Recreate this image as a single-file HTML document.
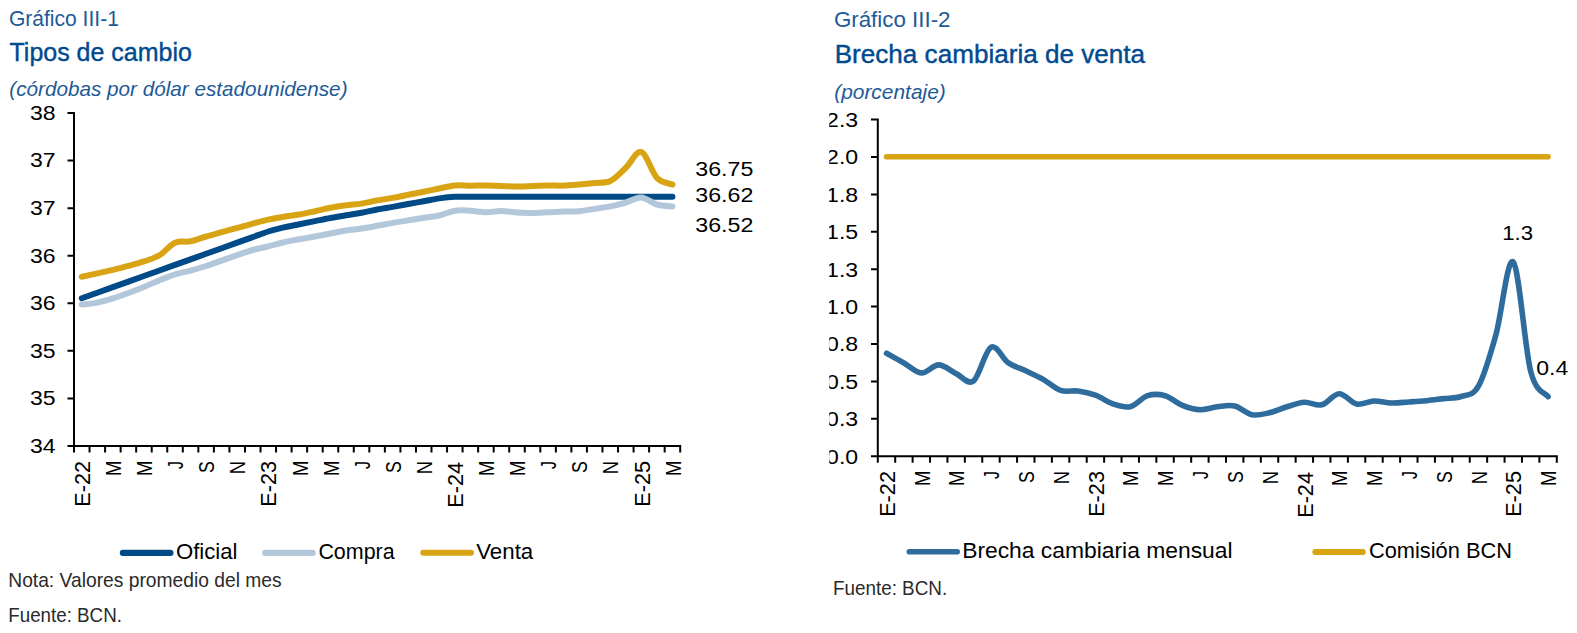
<!DOCTYPE html>
<html><head><meta charset="utf-8"><title>Tipos de cambio y brecha cambiaria</title>
<style>html,body{margin:0;padding:0;background:#fff;overflow:hidden;}svg{display:block;}</style></head>
<body><svg width="1577" height="633" viewBox="0 0 1577 633">
<rect width="1577" height="633" fill="#fff"/>
<text transform="translate(8.94 26.0) scale(0.9575 1)" font-family="'Liberation Sans', sans-serif" font-size="22" fill="#1d5a98">Gráfico III-1</text>
<text transform="translate(9.50 61.0) scale(0.9801 1)" font-family="'Liberation Sans', sans-serif" font-size="25.5" fill="#004a8f" stroke="#004a8f" stroke-width="0.4">Tipos de cambio</text>
<text transform="translate(9.29 95.9) scale(1.0099 1)" font-family="'Liberation Sans', sans-serif" font-size="20.5" fill="#1d5a98" font-style="italic">(córdobas por dólar estadounidense)</text>
<text transform="translate(833.88 26.8) scale(1.0159 1)" font-family="'Liberation Sans', sans-serif" font-size="22" fill="#1d5a98">Gráfico III-2</text>
<text transform="translate(834.65 62.6) scale(1.0235 1)" font-family="'Liberation Sans', sans-serif" font-size="25.5" fill="#004a8f" stroke="#004a8f" stroke-width="0.4">Brecha cambiaria de venta</text>
<text transform="translate(834.18 98.7) scale(1.0206 1)" font-family="'Liberation Sans', sans-serif" font-size="20.5" fill="#1d5a98" font-style="italic">(porcentaje)</text>
<text transform="translate(175.96 559.0) scale(1.0404 1)" font-family="'Liberation Sans', sans-serif" font-size="21.3" fill="#000">Oficial</text>
<text transform="translate(318.39 558.8) scale(1.0067 1)" font-family="'Liberation Sans', sans-serif" font-size="21.3" fill="#000">Compra</text>
<text transform="translate(476.20 558.8) scale(1.0473 1)" font-family="'Liberation Sans', sans-serif" font-size="21.3" fill="#000">Venta</text>
<text transform="translate(962.15 558.3) scale(1.0727 1)" font-family="'Liberation Sans', sans-serif" font-size="21.3" fill="#000">Brecha cambiaria mensual</text>
<text transform="translate(1368.98 558.4) scale(1.0248 1)" font-family="'Liberation Sans', sans-serif" font-size="21.3" fill="#000">Comisión BCN</text>
<text transform="translate(8.23 586.6) scale(0.9725 1)" font-family="'Liberation Sans', sans-serif" font-size="19.8" fill="#2a2a2a">Nota: Valores promedio del mes</text>
<text transform="translate(8.25 621.7) scale(0.9479 1)" font-family="'Liberation Sans', sans-serif" font-size="19.8" fill="#2a2a2a">Fuente: BCN.</text>
<text transform="translate(832.95 594.9) scale(0.9521 1)" font-family="'Liberation Sans', sans-serif" font-size="19.8" fill="#2a2a2a">Fuente: BCN.</text>
<text transform="translate(695.29 176.2) scale(1.1059 1)" font-family="'Liberation Sans', sans-serif" font-size="21" fill="#000">36.75</text>
<text transform="translate(695.29 202.0) scale(1.1059 1)" font-family="'Liberation Sans', sans-serif" font-size="21" fill="#000">36.62</text>
<text transform="translate(695.29 232.2) scale(1.1059 1)" font-family="'Liberation Sans', sans-serif" font-size="21" fill="#000">36.52</text>
<text transform="translate(1502.24 239.9) scale(1.0571 1)" font-family="'Liberation Sans', sans-serif" font-size="21" fill="#000">1.3</text>
<text transform="translate(1536.30 374.9) scale(1.0964 1)" font-family="'Liberation Sans', sans-serif" font-size="21" fill="#000">0.4</text>
<text transform="translate(30.00 452.90) scale(1.0955 1)" font-family="'Liberation Sans', sans-serif" font-size="21" fill="#000">34</text>
<text transform="translate(30.00 405.33) scale(1.0955 1)" font-family="'Liberation Sans', sans-serif" font-size="21" fill="#000">35</text>
<text transform="translate(30.00 357.76) scale(1.0955 1)" font-family="'Liberation Sans', sans-serif" font-size="21" fill="#000">35</text>
<text transform="translate(30.00 310.19) scale(1.0955 1)" font-family="'Liberation Sans', sans-serif" font-size="21" fill="#000">36</text>
<text transform="translate(30.00 262.61) scale(1.0955 1)" font-family="'Liberation Sans', sans-serif" font-size="21" fill="#000">36</text>
<text transform="translate(30.00 215.04) scale(1.0955 1)" font-family="'Liberation Sans', sans-serif" font-size="21" fill="#000">37</text>
<text transform="translate(30.00 167.47) scale(1.0955 1)" font-family="'Liberation Sans', sans-serif" font-size="21" fill="#000">37</text>
<text transform="translate(30.00 119.90) scale(1.0955 1)" font-family="'Liberation Sans', sans-serif" font-size="21" fill="#000">38</text>
<path d="M74.0 112.0V446.0 M67.5 446.0H681.2 M67.5 446.00H74.0 M67.5 398.43H74.0 M67.5 350.86H74.0 M67.5 303.29H74.0 M67.5 255.71H74.0 M67.5 208.14H74.0 M67.5 160.57H74.0 M67.5 113.00H74.0 M74.00 446.0V452.6 M89.54 446.0V452.6 M105.09 446.0V452.6 M120.63 446.0V452.6 M136.17 446.0V452.6 M151.72 446.0V452.6 M167.26 446.0V452.6 M182.81 446.0V452.6 M198.35 446.0V452.6 M213.89 446.0V452.6 M229.44 446.0V452.6 M244.98 446.0V452.6 M260.52 446.0V452.6 M276.07 446.0V452.6 M291.61 446.0V452.6 M307.15 446.0V452.6 M322.70 446.0V452.6 M338.24 446.0V452.6 M353.78 446.0V452.6 M369.33 446.0V452.6 M384.87 446.0V452.6 M400.42 446.0V452.6 M415.96 446.0V452.6 M431.50 446.0V452.6 M447.05 446.0V452.6 M462.59 446.0V452.6 M478.13 446.0V452.6 M493.68 446.0V452.6 M509.22 446.0V452.6 M524.76 446.0V452.6 M540.31 446.0V452.6 M555.85 446.0V452.6 M571.39 446.0V452.6 M586.94 446.0V452.6 M602.48 446.0V452.6 M618.03 446.0V452.6 M633.57 446.0V452.6 M649.11 446.0V452.6 M664.66 446.0V452.6 M680.20 446.0V452.6" stroke="#000" stroke-width="2.0" fill="none"/>
<text transform="translate(89.97 506.75) rotate(-90) scale(0.9773 1)" font-family="'Liberation Sans', sans-serif" font-size="22.2" fill="#000">E-22</text>
<text transform="translate(121.06 475.97) rotate(-90) scale(0.8333 1)" font-family="'Liberation Sans', sans-serif" font-size="22.2" fill="#000">M</text>
<text transform="translate(152.15 475.97) rotate(-90) scale(0.8333 1)" font-family="'Liberation Sans', sans-serif" font-size="22.2" fill="#000">M</text>
<text transform="translate(183.23 469.00) rotate(-90) scale(0.7200 1)" font-family="'Liberation Sans', sans-serif" font-size="22.2" fill="#000">J</text>
<text transform="translate(214.32 473.00) rotate(-90) scale(0.8000 1)" font-family="'Liberation Sans', sans-serif" font-size="22.2" fill="#000">S</text>
<text transform="translate(245.41 474.26) rotate(-90) scale(0.8308 1)" font-family="'Liberation Sans', sans-serif" font-size="22.2" fill="#000">N</text>
<text transform="translate(276.49 506.75) rotate(-90) scale(0.9773 1)" font-family="'Liberation Sans', sans-serif" font-size="22.2" fill="#000">E-23</text>
<text transform="translate(307.58 475.97) rotate(-90) scale(0.8333 1)" font-family="'Liberation Sans', sans-serif" font-size="22.2" fill="#000">M</text>
<text transform="translate(338.67 475.97) rotate(-90) scale(0.8333 1)" font-family="'Liberation Sans', sans-serif" font-size="22.2" fill="#000">M</text>
<text transform="translate(369.76 469.00) rotate(-90) scale(0.7200 1)" font-family="'Liberation Sans', sans-serif" font-size="22.2" fill="#000">J</text>
<text transform="translate(400.84 473.00) rotate(-90) scale(0.8000 1)" font-family="'Liberation Sans', sans-serif" font-size="22.2" fill="#000">S</text>
<text transform="translate(431.93 474.26) rotate(-90) scale(0.8308 1)" font-family="'Liberation Sans', sans-serif" font-size="22.2" fill="#000">N</text>
<text transform="translate(463.02 507.73) rotate(-90) scale(0.9773 1)" font-family="'Liberation Sans', sans-serif" font-size="22.2" fill="#000">E-24</text>
<text transform="translate(494.11 475.97) rotate(-90) scale(0.8333 1)" font-family="'Liberation Sans', sans-serif" font-size="22.2" fill="#000">M</text>
<text transform="translate(525.19 475.97) rotate(-90) scale(0.8333 1)" font-family="'Liberation Sans', sans-serif" font-size="22.2" fill="#000">M</text>
<text transform="translate(556.28 469.00) rotate(-90) scale(0.7200 1)" font-family="'Liberation Sans', sans-serif" font-size="22.2" fill="#000">J</text>
<text transform="translate(587.37 473.00) rotate(-90) scale(0.8000 1)" font-family="'Liberation Sans', sans-serif" font-size="22.2" fill="#000">S</text>
<text transform="translate(618.45 474.26) rotate(-90) scale(0.8308 1)" font-family="'Liberation Sans', sans-serif" font-size="22.2" fill="#000">N</text>
<text transform="translate(649.54 506.75) rotate(-90) scale(0.9773 1)" font-family="'Liberation Sans', sans-serif" font-size="22.2" fill="#000">E-25</text>
<text transform="translate(680.63 475.97) rotate(-90) scale(0.8333 1)" font-family="'Liberation Sans', sans-serif" font-size="22.2" fill="#000">M</text>
<path d="M81.77 298.30 C84.36 297.37 92.13 294.59 97.32 292.73 C102.50 290.88 107.68 289.03 112.86 287.17 C118.04 285.31 123.22 283.46 128.40 281.60 C133.58 279.74 138.76 277.88 143.95 276.03 C149.13 274.17 154.31 272.33 159.49 270.47 C164.67 268.62 169.85 266.76 175.03 264.90 C180.21 263.04 185.40 261.19 190.58 259.33 C195.76 257.47 200.94 255.62 206.12 253.77 C211.30 251.92 216.48 250.06 221.66 248.20 C226.85 246.34 232.03 244.48 237.21 242.63 C242.39 240.78 247.57 238.92 252.75 237.07 C257.93 235.22 263.11 233.12 268.29 231.50 C273.48 229.88 278.66 228.57 283.84 227.36 C289.02 226.15 294.20 225.27 299.38 224.23 C304.56 223.19 309.74 222.14 314.93 221.09 C320.11 220.04 325.29 218.91 330.47 217.95 C335.65 216.99 340.83 216.20 346.01 215.32 C351.19 214.44 356.38 213.64 361.56 212.68 C366.74 211.72 371.92 210.51 377.10 209.55 C382.28 208.59 387.46 207.82 392.64 206.91 C397.82 206.00 403.01 205.01 408.19 204.07 C413.37 203.12 418.55 202.19 423.73 201.24 C428.91 200.30 434.09 199.14 439.27 198.40 C444.46 197.66 449.64 197.07 454.82 196.80 C460.00 196.53 465.18 196.80 470.36 196.80 C475.54 196.80 480.72 196.80 485.91 196.80 C491.09 196.80 496.27 196.80 501.45 196.80 C506.63 196.80 511.81 196.80 516.99 196.80 C522.17 196.80 527.35 196.80 532.54 196.80 C537.72 196.80 542.90 196.80 548.08 196.80 C553.26 196.80 558.44 196.80 563.62 196.80 C568.80 196.80 573.99 196.80 579.17 196.80 C584.35 196.80 589.53 196.80 594.71 196.80 C599.89 196.80 605.07 196.80 610.25 196.80 C615.44 196.80 620.62 196.80 625.80 196.80 C630.98 196.80 636.16 196.80 641.34 196.80 C646.52 196.80 651.70 196.80 656.88 196.80 C662.07 196.80 669.84 196.80 672.43 196.80" stroke="#004a87" stroke-width="6.0" fill="none" stroke-linecap="round" stroke-linejoin="round"/>
<path d="M81.77 304.60 C84.36 304.27 92.13 303.63 97.32 302.60 C102.50 301.57 107.68 300.00 112.86 298.40 C118.04 296.80 123.22 294.90 128.40 293.00 C133.58 291.10 138.76 289.13 143.95 287.00 C149.13 284.87 154.31 282.32 159.49 280.20 C164.67 278.08 169.85 275.90 175.03 274.30 C180.21 272.70 185.40 271.98 190.58 270.60 C195.76 269.22 200.94 267.67 206.12 266.00 C211.30 264.33 216.48 262.42 221.66 260.60 C226.85 258.78 232.03 256.87 237.21 255.10 C242.39 253.33 247.57 251.47 252.75 250.00 C257.93 248.53 263.11 247.60 268.29 246.30 C273.48 245.00 278.66 243.37 283.84 242.20 C289.02 241.03 294.20 240.25 299.38 239.30 C304.56 238.35 309.74 237.47 314.93 236.50 C320.11 235.53 325.29 234.50 330.47 233.50 C335.65 232.50 340.83 231.33 346.01 230.50 C351.19 229.67 356.38 229.28 361.56 228.50 C366.74 227.72 371.92 226.73 377.10 225.80 C382.28 224.87 387.46 223.80 392.64 222.90 C397.82 222.00 403.01 221.25 408.19 220.40 C413.37 219.55 418.55 218.62 423.73 217.80 C428.91 216.98 434.09 216.68 439.27 215.50 C444.46 214.32 449.64 211.48 454.82 210.70 C460.00 209.92 465.18 210.53 470.36 210.80 C475.54 211.07 480.72 212.27 485.91 212.30 C491.09 212.33 496.27 210.95 501.45 211.00 C506.63 211.05 511.81 212.28 516.99 212.60 C522.17 212.92 527.35 212.95 532.54 212.90 C537.72 212.85 542.90 212.52 548.08 212.30 C553.26 212.08 558.44 211.78 563.62 211.60 C568.80 211.42 573.99 211.65 579.17 211.20 C584.35 210.75 589.53 209.70 594.71 208.90 C599.89 208.10 605.07 207.45 610.25 206.40 C615.44 205.35 620.62 204.08 625.80 202.60 C630.98 201.12 636.16 197.18 641.34 197.50 C646.52 197.82 651.70 203.02 656.88 204.50 C662.07 205.98 669.84 206.08 672.43 206.40" stroke="#b3c7da" stroke-width="6.0" fill="none" stroke-linecap="round" stroke-linejoin="round"/>
<path d="M81.77 276.80 C84.36 276.23 92.13 274.57 97.32 273.40 C102.50 272.23 107.68 271.05 112.86 269.80 C118.04 268.55 123.22 267.30 128.40 265.90 C133.58 264.50 138.76 263.17 143.95 261.40 C149.13 259.63 154.31 258.40 159.49 255.30 C164.67 252.20 169.85 245.13 175.03 242.80 C180.21 240.47 185.40 242.35 190.58 241.30 C195.76 240.25 200.94 238.02 206.12 236.50 C211.30 234.98 216.48 233.63 221.66 232.20 C226.85 230.77 232.03 229.33 237.21 227.90 C242.39 226.47 247.57 224.98 252.75 223.60 C257.93 222.22 263.11 220.73 268.29 219.60 C273.48 218.47 278.66 217.65 283.84 216.80 C289.02 215.95 294.20 215.43 299.38 214.50 C304.56 213.57 309.74 212.33 314.93 211.20 C320.11 210.07 325.29 208.68 330.47 207.70 C335.65 206.72 340.83 205.98 346.01 205.30 C351.19 204.62 356.38 204.42 361.56 203.60 C366.74 202.78 371.92 201.35 377.10 200.40 C382.28 199.45 387.46 198.83 392.64 197.90 C397.82 196.97 403.01 195.82 408.19 194.80 C413.37 193.78 418.55 192.85 423.73 191.80 C428.91 190.75 434.09 189.55 439.27 188.50 C444.46 187.45 449.64 185.97 454.82 185.50 C460.00 185.03 465.18 185.70 470.36 185.70 C475.54 185.70 480.72 185.45 485.91 185.50 C491.09 185.55 496.27 185.85 501.45 186.00 C506.63 186.15 511.81 186.40 516.99 186.40 C522.17 186.40 527.35 186.15 532.54 186.00 C537.72 185.85 542.90 185.57 548.08 185.50 C553.26 185.43 558.44 185.77 563.62 185.60 C568.80 185.43 573.99 184.93 579.17 184.50 C584.35 184.07 589.53 183.58 594.71 183.00 C599.89 182.42 605.07 183.53 610.25 181.00 C615.44 178.47 620.62 172.63 625.80 167.80 C630.98 162.97 636.16 150.32 641.34 152.00 C646.52 153.68 651.70 172.47 656.88 177.90 C662.07 183.33 669.84 183.48 672.43 184.60" stroke="#d8a413" stroke-width="6.0" fill="none" stroke-linecap="round" stroke-linejoin="round"/>
<path d="M122.85 552.9H170.45" stroke="#004a87" stroke-width="6.1" stroke-linecap="round"/>
<path d="M265.15 552.9H312.75" stroke="#b3c7da" stroke-width="6.1" stroke-linecap="round"/>
<path d="M423.35 552.8H470.95" stroke="#d8a413" stroke-width="6.1" stroke-linecap="round"/>
<path d="M909.30 551.8H957.20" stroke="#2f6c9e" stroke-width="5.6" stroke-linecap="round"/>
<path d="M1315.25 552H1362.85" stroke="#d8a413" stroke-width="5.9" stroke-linecap="round"/>
<path d="M877.8 118.6V456.2 M871.0 456.2H1557.8 M871.0 456.20H877.8 M871.0 418.80H877.8 M871.0 381.40H877.8 M871.0 344.00H877.8 M871.0 306.60H877.8 M871.0 269.20H877.8 M871.0 231.80H877.8 M871.0 194.40H877.8 M871.0 157.00H877.8 M871.0 119.60H877.8 M877.80 456.2V462.8 M895.21 456.2V462.8 M912.62 456.2V462.8 M930.03 456.2V462.8 M947.44 456.2V462.8 M964.85 456.2V462.8 M982.26 456.2V462.8 M999.67 456.2V462.8 M1017.08 456.2V462.8 M1034.49 456.2V462.8 M1051.90 456.2V462.8 M1069.31 456.2V462.8 M1086.72 456.2V462.8 M1104.13 456.2V462.8 M1121.54 456.2V462.8 M1138.95 456.2V462.8 M1156.36 456.2V462.8 M1173.77 456.2V462.8 M1191.18 456.2V462.8 M1208.59 456.2V462.8 M1226.01 456.2V462.8 M1243.42 456.2V462.8 M1260.83 456.2V462.8 M1278.24 456.2V462.8 M1295.65 456.2V462.8 M1313.06 456.2V462.8 M1330.47 456.2V462.8 M1347.88 456.2V462.8 M1365.29 456.2V462.8 M1382.70 456.2V462.8 M1400.11 456.2V462.8 M1417.52 456.2V462.8 M1434.93 456.2V462.8 M1452.34 456.2V462.8 M1469.75 456.2V462.8 M1487.16 456.2V462.8 M1504.57 456.2V462.8 M1521.98 456.2V462.8 M1539.39 456.2V462.8 M1556.80 456.2V462.8" stroke="#000" stroke-width="2.0" fill="none"/>
<clipPath id="c2"><rect x="829.3" y="0" width="800" height="633"/></clipPath>
<g clip-path="url(#c2)"><text transform="translate(826.10 463.50) scale(1.1000 1)" font-family="'Liberation Sans', sans-serif" font-size="21" fill="#000">0.0</text><text transform="translate(826.10 426.10) scale(1.1000 1)" font-family="'Liberation Sans', sans-serif" font-size="21" fill="#000">0.3</text><text transform="translate(826.10 388.70) scale(1.1000 1)" font-family="'Liberation Sans', sans-serif" font-size="21" fill="#000">0.5</text><text transform="translate(826.10 351.30) scale(1.1000 1)" font-family="'Liberation Sans', sans-serif" font-size="21" fill="#000">0.8</text><text transform="translate(826.10 313.90) scale(1.1000 1)" font-family="'Liberation Sans', sans-serif" font-size="21" fill="#000">1.0</text><text transform="translate(826.10 276.50) scale(1.1000 1)" font-family="'Liberation Sans', sans-serif" font-size="21" fill="#000">1.3</text><text transform="translate(826.10 239.10) scale(1.1000 1)" font-family="'Liberation Sans', sans-serif" font-size="21" fill="#000">1.5</text><text transform="translate(826.10 201.70) scale(1.1000 1)" font-family="'Liberation Sans', sans-serif" font-size="21" fill="#000">1.8</text><text transform="translate(826.10 164.30) scale(1.1000 1)" font-family="'Liberation Sans', sans-serif" font-size="21" fill="#000">2.0</text><text transform="translate(826.10 126.90) scale(1.1000 1)" font-family="'Liberation Sans', sans-serif" font-size="21" fill="#000">2.3</text></g>
<text transform="translate(894.71 516.85) rotate(-90) scale(0.9773 1)" font-family="'Liberation Sans', sans-serif" font-size="22.2" fill="#000">E-22</text>
<text transform="translate(929.53 486.07) rotate(-90) scale(0.8333 1)" font-family="'Liberation Sans', sans-serif" font-size="22.2" fill="#000">M</text>
<text transform="translate(964.35 486.07) rotate(-90) scale(0.8333 1)" font-family="'Liberation Sans', sans-serif" font-size="22.2" fill="#000">M</text>
<text transform="translate(999.17 479.10) rotate(-90) scale(0.7200 1)" font-family="'Liberation Sans', sans-serif" font-size="22.2" fill="#000">J</text>
<text transform="translate(1033.99 483.10) rotate(-90) scale(0.8000 1)" font-family="'Liberation Sans', sans-serif" font-size="22.2" fill="#000">S</text>
<text transform="translate(1068.81 484.36) rotate(-90) scale(0.8308 1)" font-family="'Liberation Sans', sans-serif" font-size="22.2" fill="#000">N</text>
<text transform="translate(1103.63 516.85) rotate(-90) scale(0.9773 1)" font-family="'Liberation Sans', sans-serif" font-size="22.2" fill="#000">E-23</text>
<text transform="translate(1138.45 486.07) rotate(-90) scale(0.8333 1)" font-family="'Liberation Sans', sans-serif" font-size="22.2" fill="#000">M</text>
<text transform="translate(1173.27 486.07) rotate(-90) scale(0.8333 1)" font-family="'Liberation Sans', sans-serif" font-size="22.2" fill="#000">M</text>
<text transform="translate(1208.09 479.10) rotate(-90) scale(0.7200 1)" font-family="'Liberation Sans', sans-serif" font-size="22.2" fill="#000">J</text>
<text transform="translate(1242.91 483.10) rotate(-90) scale(0.8000 1)" font-family="'Liberation Sans', sans-serif" font-size="22.2" fill="#000">S</text>
<text transform="translate(1277.73 484.36) rotate(-90) scale(0.8308 1)" font-family="'Liberation Sans', sans-serif" font-size="22.2" fill="#000">N</text>
<text transform="translate(1312.55 517.83) rotate(-90) scale(0.9773 1)" font-family="'Liberation Sans', sans-serif" font-size="22.2" fill="#000">E-24</text>
<text transform="translate(1347.37 486.07) rotate(-90) scale(0.8333 1)" font-family="'Liberation Sans', sans-serif" font-size="22.2" fill="#000">M</text>
<text transform="translate(1382.19 486.07) rotate(-90) scale(0.8333 1)" font-family="'Liberation Sans', sans-serif" font-size="22.2" fill="#000">M</text>
<text transform="translate(1417.01 479.10) rotate(-90) scale(0.7200 1)" font-family="'Liberation Sans', sans-serif" font-size="22.2" fill="#000">J</text>
<text transform="translate(1451.83 483.10) rotate(-90) scale(0.8000 1)" font-family="'Liberation Sans', sans-serif" font-size="22.2" fill="#000">S</text>
<text transform="translate(1486.65 484.36) rotate(-90) scale(0.8308 1)" font-family="'Liberation Sans', sans-serif" font-size="22.2" fill="#000">N</text>
<text transform="translate(1521.47 516.85) rotate(-90) scale(0.9773 1)" font-family="'Liberation Sans', sans-serif" font-size="22.2" fill="#000">E-25</text>
<text transform="translate(1556.29 486.07) rotate(-90) scale(0.8333 1)" font-family="'Liberation Sans', sans-serif" font-size="22.2" fill="#000">M</text>
<path d="M886.51 156.7H1548.09" stroke="#d8a413" stroke-width="5.6" stroke-linecap="round"/>
<path d="M886.51 353.30 C889.41 354.92 898.11 359.72 903.92 363.00 C909.72 366.28 915.52 372.68 921.33 373.00 C927.13 373.32 932.93 364.80 938.74 364.90 C944.54 365.00 950.34 370.92 956.15 373.60 C961.95 376.28 967.75 385.40 973.56 381.00 C979.36 376.60 985.16 350.22 990.97 347.20 C996.77 344.18 1002.57 358.97 1008.38 362.90 C1014.18 366.83 1019.98 368.05 1025.79 370.80 C1031.59 373.55 1037.39 376.13 1043.20 379.40 C1049.00 382.67 1054.80 388.47 1060.61 390.40 C1066.41 392.33 1072.21 390.20 1078.02 391.00 C1083.82 391.80 1089.62 393.07 1095.43 395.20 C1101.23 397.33 1107.04 401.88 1112.84 403.80 C1118.64 405.72 1124.45 408.05 1130.25 406.70 C1136.05 405.35 1141.86 397.53 1147.66 395.70 C1153.46 393.87 1159.27 394.08 1165.07 395.70 C1170.87 397.32 1176.68 403.05 1182.48 405.40 C1188.28 407.75 1194.09 409.57 1199.89 409.80 C1205.69 410.03 1211.50 407.43 1217.30 406.80 C1223.10 406.17 1228.91 404.67 1234.71 406.00 C1240.51 407.33 1246.32 413.68 1252.12 414.80 C1257.92 415.92 1263.73 414.03 1269.53 412.70 C1275.33 411.37 1281.14 408.55 1286.94 406.80 C1292.74 405.05 1298.55 402.53 1304.35 402.20 C1310.15 401.87 1315.96 406.22 1321.76 404.80 C1327.56 403.38 1333.37 393.82 1339.17 393.70 C1344.98 393.58 1350.78 402.88 1356.58 404.10 C1362.39 405.32 1368.19 401.18 1373.99 401.00 C1379.80 400.82 1385.60 402.83 1391.40 403.00 C1397.21 403.17 1403.01 402.38 1408.81 402.00 C1414.62 401.62 1420.42 401.27 1426.22 400.70 C1432.03 400.13 1437.83 399.30 1443.63 398.60 C1449.44 397.90 1455.24 398.57 1461.04 396.50 C1466.85 394.43 1472.65 396.45 1478.45 386.20 C1484.26 375.95 1490.06 355.70 1495.86 335.00 C1501.67 314.30 1507.47 255.93 1513.27 262.00 C1519.08 268.07 1524.88 348.95 1530.68 371.40 C1536.49 393.85 1545.19 392.48 1548.09 396.70" stroke="#2f6c9e" stroke-width="5.6" fill="none" stroke-linecap="round" stroke-linejoin="round"/>
</svg></body></html>
